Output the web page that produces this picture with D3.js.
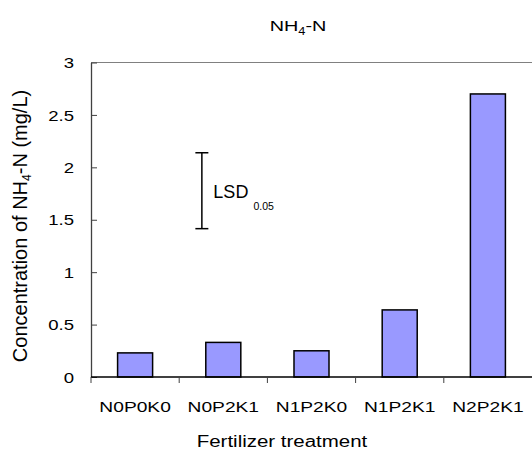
<!DOCTYPE html>
<html>
<head>
<meta charset="utf-8">
<script src="https://cdn.jsdelivr.net/npm/d3@7"></script>
<style>
  body { margin: 0; background: #fff; }
  text { font-family: "Liberation Sans", Arial, sans-serif; fill: #000; }
</style>
</head>
<body>
<script>
var treatments = ["N0P0K0", "N0P2K1", "N1P2K0", "N1P2K1", "N2P2K1"];
var nh4 = [0.23, 0.33, 0.25, 0.64, 2.70];  // mg/L
var yTicks = [0, 0.5, 1, 1.5, 2, 2.5, 3];
var yTickLabels = ["0", "0.5", "1", "1.5", "2", "2.5", "3"];
var lsd = [1.415, 2.139];  // low, high end of the LSD bar

var width = 532;
var height = 453;
var sx = 1.28;  // the picture's text is stretched sideways

var svg = d3.select("body").append("svg")
    .attr("width", width)
    .attr("height", height);

var x = d3.scaleBand()
    .domain(treatments)
    .range([91, 532])
    .paddingInner(0.603)
    .paddingOuter(0.3015);

var y = d3.scaleLinear()
    .domain([0, 3])
    .range([377, 62.5]);

// top frame line
svg.append("line")
    .attr("x1", 91).attr("x2", 532)
    .attr("y1", y(3)).attr("y2", y(3))
    .attr("stroke", "#808080")
    .attr("stroke-width", 1.2);

// bars
svg.selectAll(".bar")
    .data(nh4)
    .enter().append("rect")
    .attr("class", "bar")
    .attr("x", function(d, i) { return x(treatments[i]); })
    .attr("y", function(d) { return y(d); })
    .attr("width", x.bandwidth())
    .attr("height", function(d) { return y(0) - y(d); })
    .attr("fill", "#9999FF")
    .attr("stroke", "#000")
    .attr("stroke-width", 1.5);

// y axis, ticks point inward
var yAxis = svg.append("g")
    .attr("transform", "translate(91,0)")
    .call(d3.axisLeft(y)
        .tickValues(yTicks)
        .tickFormat(function(d, i) { return yTickLabels[i]; })
        .tickSizeInner(-6)
        .tickSizeOuter(0)
        .tickPadding(0));
yAxis.select(".domain").attr("stroke", "#404040").attr("stroke-width", 1.3);
yAxis.selectAll(".tick line").attr("stroke", "#404040");
yAxis.selectAll(".tick text")
    .attr("x", -17 / sx)
    .attr("dy", "0.36em")
    .attr("transform", "scale(" + sx + ",1)")
    .style("font-size", "14.5px")
    .style("font-family", "Liberation Sans, Arial, sans-serif");

// x axis baseline + boundary ticks
var step = x.step();
var bounds = treatments.map(function(t) { return x(t) - (step - x.bandwidth()) / 2; });
svg.append("line")
    .attr("x1", 91).attr("x2", 532)
    .attr("y1", y(0)).attr("y2", y(0))
    .attr("stroke", "#000")
    .attr("stroke-width", 1.5);
svg.selectAll(".xtick")
    .data(bounds)
    .enter().append("line")
    .attr("class", "xtick")
    .attr("x1", function(d) { return d; })
    .attr("x2", function(d) { return d; })
    .attr("y1", y(0))
    .attr("y2", y(0) + 6)
    .attr("stroke", "#404040");

svg.selectAll(".xlabel")
    .data(treatments)
    .enter().append("text")
    .attr("class", "xlabel")
    .attr("transform", function(d) {
        return "translate(" + (x(d) + x.bandwidth() / 2) + ",412) scale(" + sx + ",1)";
    })
    .attr("text-anchor", "middle")
    .style("font-size", "15px")
    .text(function(d) { return d; });

// axis titles
svg.append("text")
    .attr("transform", "translate(282,447) scale(" + sx + ",1)")
    .attr("text-anchor", "middle")
    .style("font-size", "16px")
    .text("Fertilizer treatment");

var yl = svg.append("text")
    .attr("transform", "translate(27,226) rotate(-90)")
    .attr("text-anchor", "middle")
    .style("font-size", "20px");
yl.append("tspan").text("Concentration of NH");
yl.append("tspan").attr("dy", 4).style("font-size", "12px").text("4");
yl.append("tspan").attr("dy", -4).text("-N (mg/L)");

// chart title
var title = svg.append("text")
    .attr("transform", "translate(298,31) scale(" + sx + ",1)")
    .attr("text-anchor", "middle")
    .style("font-size", "15.5px");
title.append("tspan").text("NH");
title.append("tspan").attr("dy", 4).style("font-size", "10px").text("4");
title.append("tspan").attr("dy", -4).text("-N");

// LSD bar
var lsdX = bounds[1] + step * 0.257;
var lsdG = svg.append("g");
lsdG.append("line")
    .attr("x1", lsdX).attr("x2", lsdX)
    .attr("y1", y(lsd[0])).attr("y2", y(lsd[1]))
    .attr("stroke", "#000").attr("stroke-width", 1.5);
lsdG.selectAll(".cap")
    .data(lsd)
    .enter().append("line")
    .attr("x1", lsdX - 6.5).attr("x2", lsdX + 6.5)
    .attr("y1", function(d) { return y(d); })
    .attr("y2", function(d) { return y(d); })
    .attr("stroke", "#000").attr("stroke-width", 1.5);
var lsdT = lsdG.append("text")
    .attr("x", lsdX + 11.5)
    .attr("y", 197.5)
    .style("font-size", "18px");
lsdT.append("tspan").text("LSD");
lsdT.append("tspan").attr("dx", 5).attr("dy", 12).style("font-size", "10.5px").text("0.05");
</script>
</body>
</html>
